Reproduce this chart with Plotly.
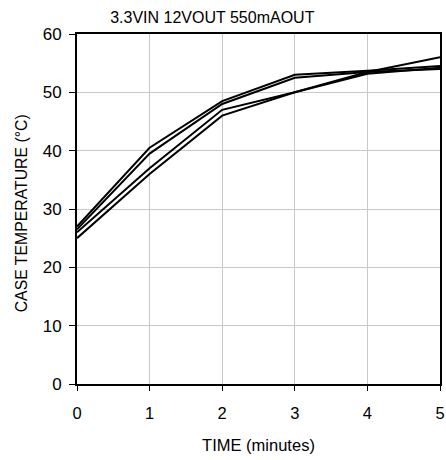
import plotly.graph_objects as go

time_min = [0, 1, 2, 3, 4, 5]
run_a = [27.0, 40.5, 48.5, 53.0, 53.7, 54.5]
run_b = [26.5, 39.5, 48.0, 52.5, 53.5, 54.0]
run_c = [26.0, 37.0, 47.0, 50.0, 53.5, 56.0]
run_d = [25.0, 36.0, 46.0, 50.0, 53.2, 54.2]
series = [run_a, run_b, run_c, run_d]

fig = go.Figure()
for s in series:
    fig.add_trace(go.Scatter(x=time_min, y=s, mode="lines",
                             line=dict(color="black", width=2), showlegend=False))

font = "Liberation Sans, Arial, sans-serif"
fig.update_layout(
    width=446, height=460,
    margin=dict(l=77, r=6, t=34, b=76, autoexpand=False),
    plot_bgcolor="white", paper_bgcolor="white",
    font=dict(family=font, color="black"),
    title=dict(text="3.3VIN 12VOUT 550mAOUT", x=0.476, xanchor="center",
               xref="container", y=0.962, yanchor="middle", yref="container",
               font=dict(size=16)),
)
fig.add_annotation(text="CASE TEMPERATURE (°C)", textangle=-90,
                   xref="paper", yref="paper", x=-0.153, y=0.489,
                   xanchor="center", yanchor="middle", showarrow=False,
                   font=dict(size=15.8))
fig.update_xaxes(range=[0, 5], tickvals=[0, 1, 2, 3, 4, 5], showgrid=True,
                 gridcolor="#c8c8c8", gridwidth=1, zeroline=False,
                 showline=True, linecolor="black", linewidth=2, mirror=True,
                 ticks="outside", ticklen=5, tickcolor="black",
                 tickfont=dict(size=16.5), ticklabelstandoff=8,
                 ticklabeloverflow="allow", automargin=False,
                 title=dict(text="TIME (minutes)", font=dict(size=16.5),
                            standoff=19))
fig.update_yaxes(range=[0, 60], tickvals=[0, 10, 20, 30, 40, 50, 60], showgrid=True,
                 gridcolor="#c8c8c8", gridwidth=1, zeroline=False,
                 showline=True, linecolor="black", linewidth=2, mirror=True,
                 ticks="outside", ticklen=6, tickcolor="black",
                 tickfont=dict(size=17), ticklabelstandoff=4, automargin=False)
# remove the default page margin so the 446x460 figure fills the window exactly
fig.write_html("out.html", config={"displayModeBar": False},
               post_script="document.body.style.margin='0';document.body.style.overflow='hidden';")
